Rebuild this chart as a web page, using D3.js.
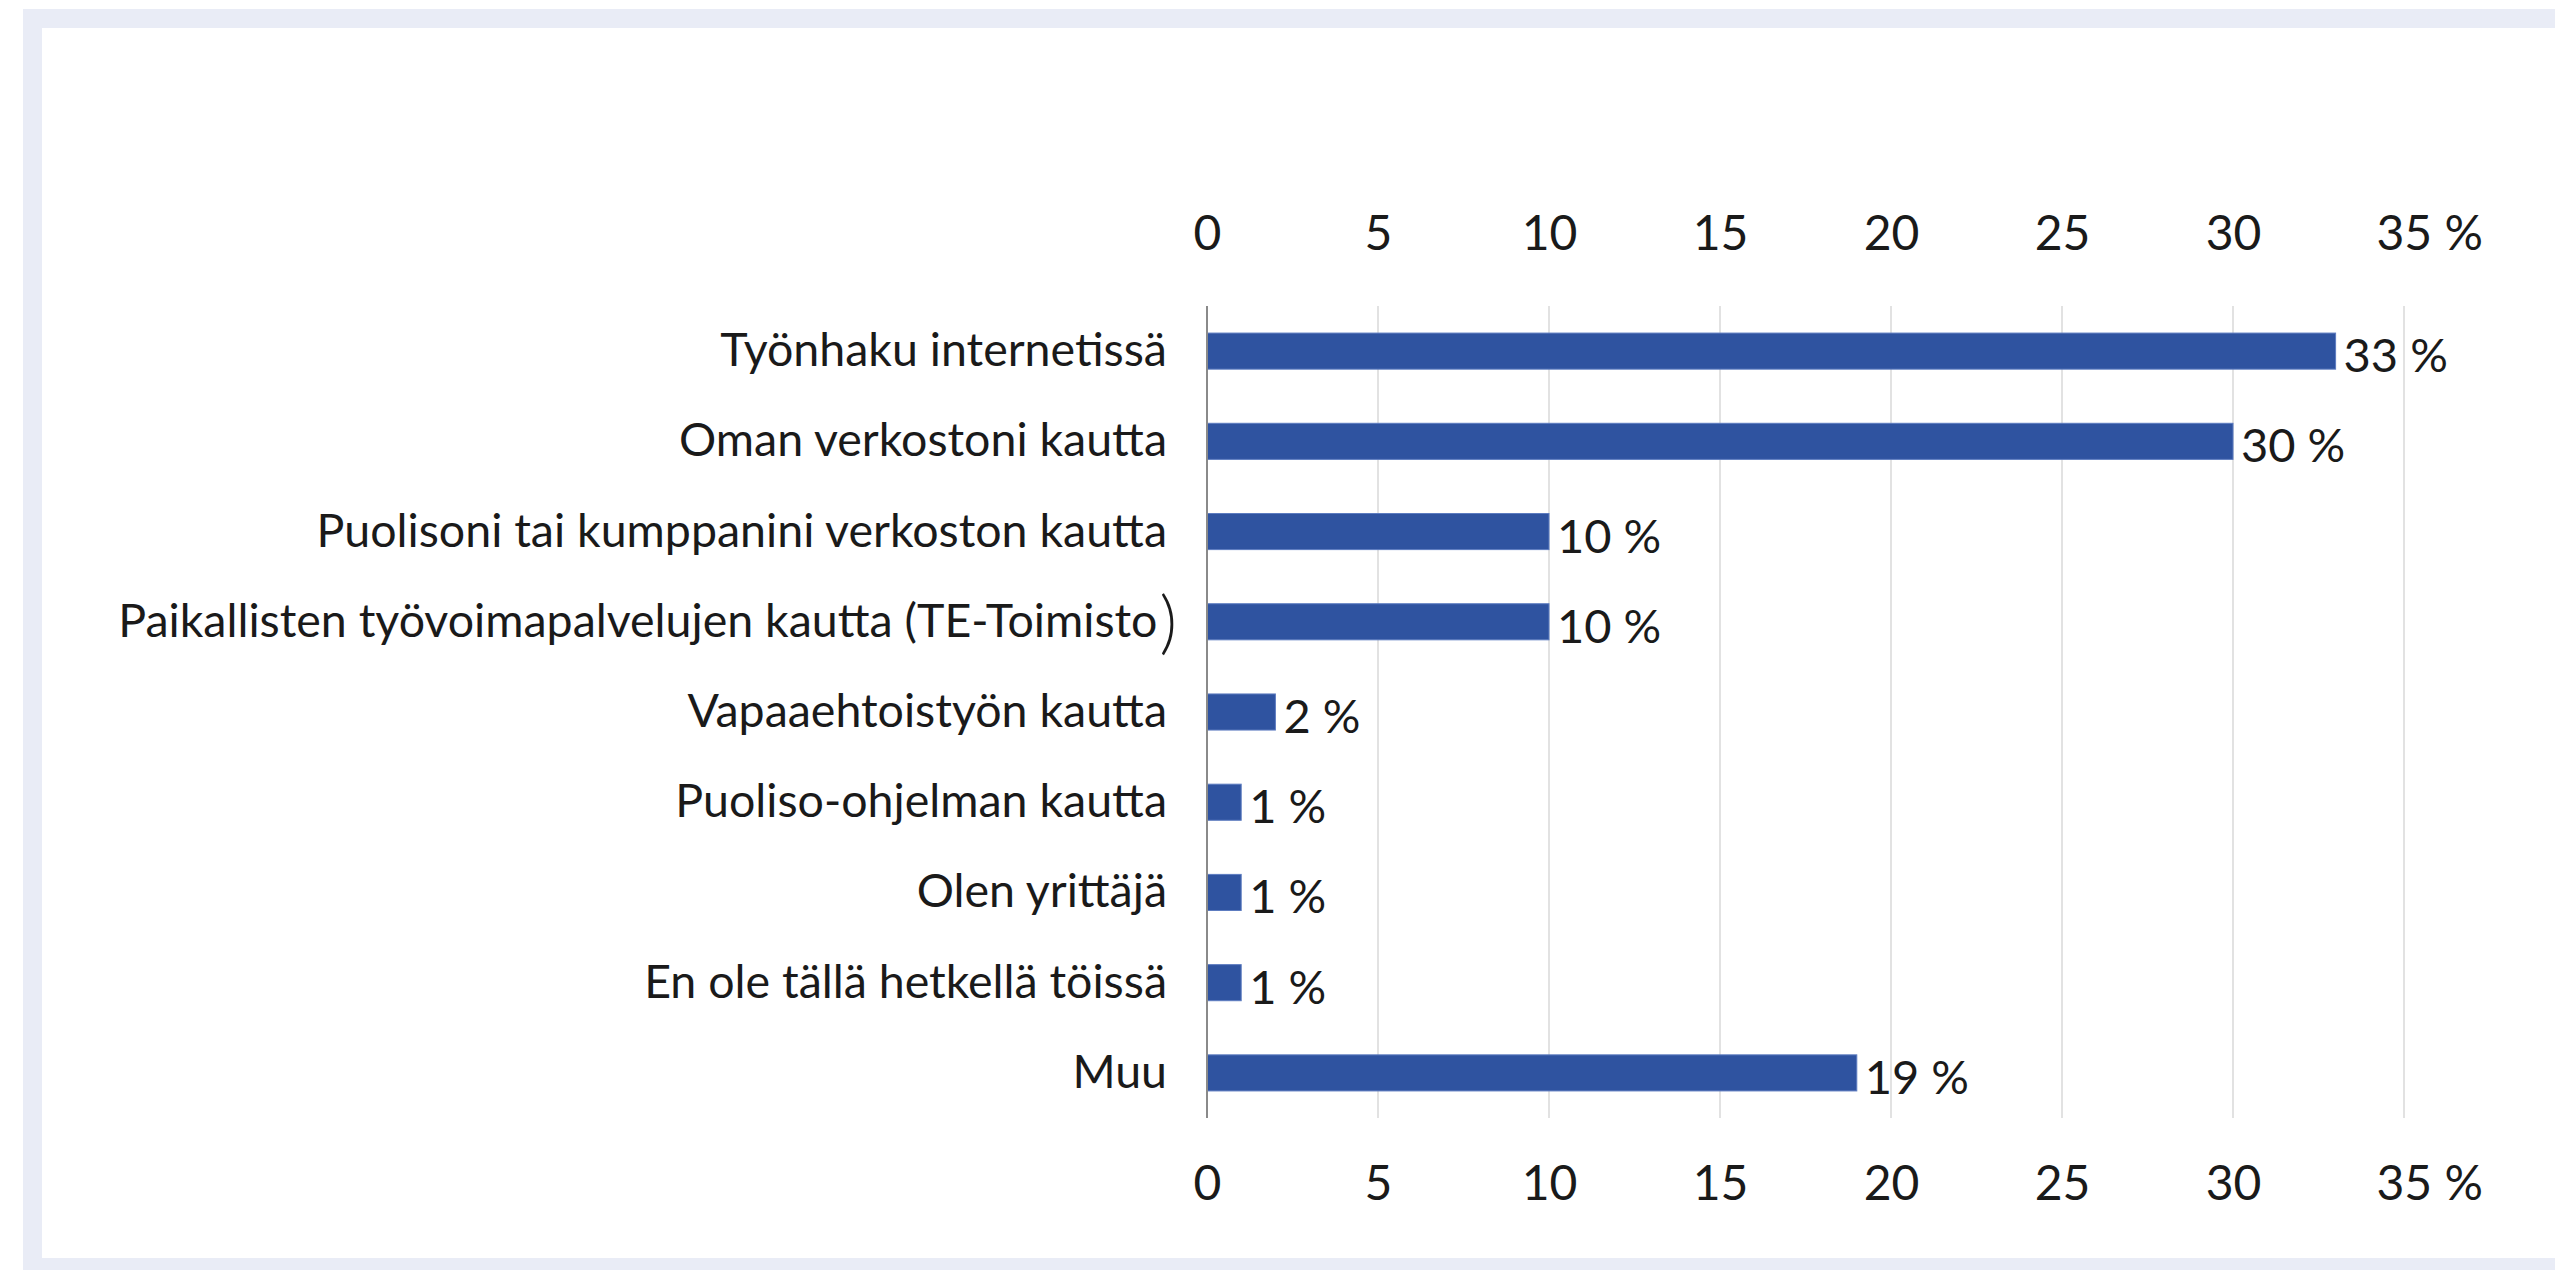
<!DOCTYPE html>
<html lang="fi">
<head>
<meta charset="utf-8">
<script src="https://cdn.jsdelivr.net/npm/d3@7"></script>
<style>
  html, body { margin: 0; padding: 0; background: #ffffff; }
  svg { display: block; }
  text { font-family: Lato, "Noto Sans", sans-serif; fill: #1a1a1a; }
</style>
</head>
<body>
<svg id="chart" width="2555" height="1270"></svg>
<script>
// Categories, top to bottom
const categories = [
  "Työnhaku internetissä",
  "Oman verkostoni kautta",
  "Puolisoni tai kumppanini verkoston kautta",
  "Paikallisten työvoimapalvelujen kautta (TE-Toimisto)",
  "Vapaaehtoistyön kautta",
  "Puoliso-ohjelman kautta",
  "Olen yrittäjä",
  "En ole tällä hetkellä töissä",
  "Muu"
];
// Share of respondents, %
const values = [33, 30, 10, 10, 2, 1, 1, 1, 19];
// Axis ticks
const tickValues = [0, 5, 10, 15, 20, 25, 30, 35];
const tickLabels = ["0", "5", "10", "15", "20", "25", "30", "35 %"];

const svg = d3.select("#chart");
const W = 2555, H = 1270;

// Frame around the card
const frameColor = "#e9ecf6";
svg.append("rect").attr("x", 0).attr("y", 0).attr("width", W).attr("height", H).attr("fill", "#ffffff");
svg.append("rect").attr("x", 23).attr("y", 9).attr("width", W - 23).attr("height", 19).attr("fill", frameColor);
svg.append("rect").attr("x", 23).attr("y", 9).attr("width", 19).attr("height", H - 9).attr("fill", frameColor);
svg.append("rect").attr("x", 23).attr("y", 1258).attr("width", W - 23).attr("height", 12).attr("fill", frameColor);

const plot = { left: 1207, right: 2404, top: 306, bottom: 1118 };

const x = d3.scaleLinear().domain([0, 35]).range([plot.left, plot.right]);
const y = d3.scaleBand().domain(categories).range([plot.top, plot.bottom])
  .paddingInner(0.6).paddingOuter(0.3);

// Vertical gridlines
svg.append("g").selectAll("line")
  .data(tickValues.filter(d => d > 0))
  .join("line")
  .attr("x1", d => x(d)).attr("x2", d => x(d))
  .attr("y1", plot.top).attr("y2", plot.bottom)
  .attr("stroke", "#e2e2e2").attr("stroke-width", 2);

// Bars
svg.append("g").selectAll("rect")
  .data(categories)
  .join("rect")
  .attr("x", x(0))
  .attr("y", d => y(d))
  .attr("width", (d, i) => x(values[i]) - x(0))
  .attr("height", y.bandwidth())
  .attr("fill", "#2f53a0")
  .attr("stroke", "#5d7cc0")
  .attr("stroke-width", 1);

// Category axis line
svg.append("line")
  .attr("x1", x(0)).attr("x2", x(0))
  .attr("y1", plot.top).attr("y2", plot.bottom)
  .attr("stroke", "#8a8a8a").attr("stroke-width", 2);

// Category labels
const catG = svg.append("g");
categories.forEach((c, i) => {
  const closing = c.endsWith(")");
  const t = catG.append("text")
    .attr("x", closing ? 1177 : 1167)
    .attr("y", y(c) + y.bandwidth() / 2 - 3)
    .attr("text-anchor", "end")
    .attr("dominant-baseline", "central")
    .attr("font-size", 46.5);
  if (closing) {
    t.append("tspan").text(c.slice(0, -1));
    t.append("tspan").attr("font-size", 68).attr("font-weight", 300).attr("dx", 2).text(")");
  } else {
    t.text(c);
  }
});

// Value labels
svg.append("g").selectAll("text")
  .data(categories)
  .join("text")
  .attr("x", (d, i) => x(values[i]) + 8)
  .attr("y", d => y(d) + y.bandwidth() / 2 + 3)
  .attr("dominant-baseline", "central")
  .attr("font-size", 47)
  .text((d, i) => values[i] + " %");

// Top and bottom value axes
function styleAxis(g) {
  g.select(".domain").remove();
  g.selectAll(".tick line").remove();
  g.selectAll(".tick text")
    .attr("font-size", 48)
    .attr("fill", "#1a1a1a")
    .style("font-family", "Lato, 'Noto Sans', sans-serif");
}
const fmt = d => tickLabels[tickValues.indexOf(d)];

svg.append("g")
  .attr("transform", "translate(0,250)")
  .call(d3.axisTop(x).tickValues(tickValues).tickFormat(fmt).tickSize(0).tickPadding(0))
  .call(styleAxis);

svg.append("g")
  .attr("transform", "translate(0,1166)")
  .call(d3.axisBottom(x).tickValues(tickValues).tickFormat(fmt).tickSize(0).tickPadding(0))
  .call(styleAxis);

// Keep the "35 %" label anchored on its number
svg.selectAll(".tick text").filter(d => d === 35)
  .attr("text-anchor", "start").attr("dx", -28);
</script>
</body>
</html>
